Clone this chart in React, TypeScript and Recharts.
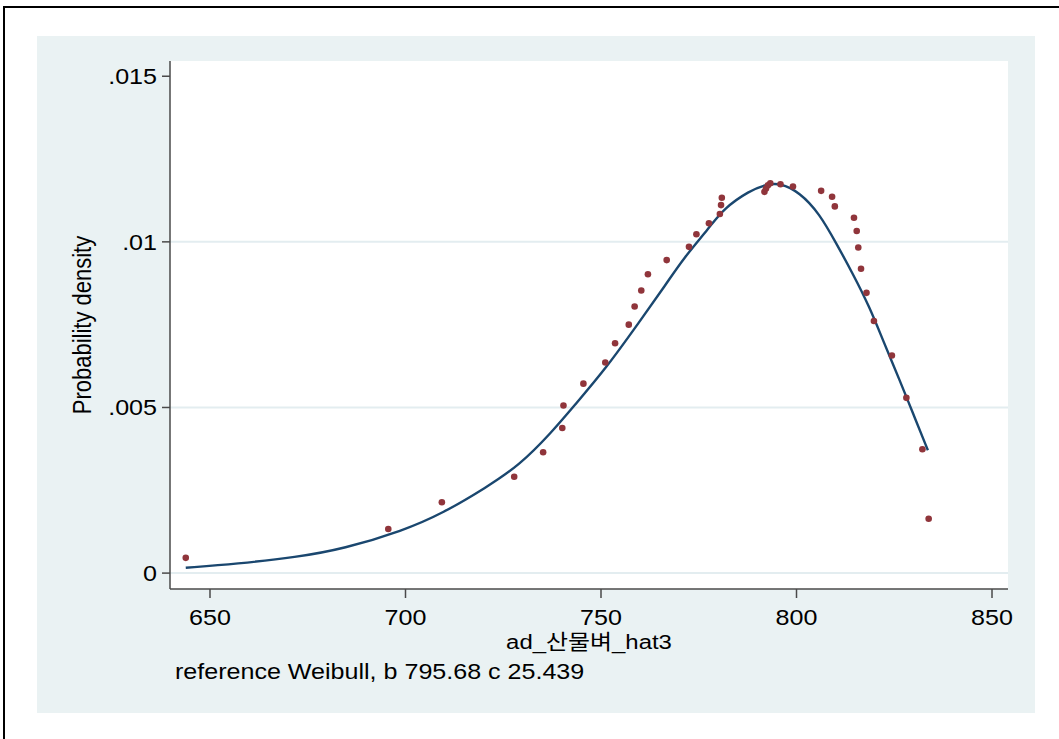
import {
  ComposedChart,
  Line,
  Scatter,
  XAxis,
  YAxis,
  ReferenceLine,
} from "recharts";

// tick labels / axis setup
const xTicks = [650, 700, 750, 800, 850];
const yTicks = [0, 0.005, 0.01, 0.015];
const yTickLabels = ["0", ".005", ".01", ".015"];
const gridValues = [0, 0.005, 0.01];

// observed density points (red dots)
const dotX = [
  643.8, 695.6, 709.3, 727.8, 735.2, 740.1, 740.4, 745.5, 751.1, 753.6,
  757.1, 758.6, 760.3, 762.0, 766.8, 772.5, 774.4, 777.6, 780.4, 780.7,
  780.9, 791.8, 792.2, 792.7, 793.3, 795.9, 799.1, 806.3, 809.1, 809.8,
  814.7, 815.4, 815.8, 816.5, 817.9, 819.8, 824.4, 828.1, 832.2, 833.8,
];
const dotY = [
  0.00046, 0.00133, 0.00214, 0.00291, 0.00365, 0.00438, 0.00506, 0.00572,
  0.00636, 0.00694, 0.0075, 0.00805, 0.00853, 0.00902, 0.00945, 0.00985,
  0.01023, 0.01056, 0.01084, 0.01111, 0.01133, 0.01151, 0.01161, 0.01171,
  0.01177, 0.01174, 0.01167, 0.01154, 0.01136, 0.01107, 0.01073, 0.01033,
  0.00983, 0.00919, 0.00846, 0.00761, 0.00657, 0.00529, 0.00374, 0.00164,
];

// reference Weibull curve
const curveX = [
  643.8, 656.8, 672.2, 684.1, 699.4, 709.6, 720.7, 729.2, 737.3, 742.9,
  751.4, 759.9, 766.7, 771.0, 777.8, 781.2, 788.0, 792.3, 795.7, 800.8,
  805.9, 810.2, 814.4, 818.7, 822.1, 826.4, 829.8, 833.6,
];
const curveY = [
  0.00016, 0.00028, 0.00048, 0.00073, 0.00128, 0.00181, 0.00259, 0.00326,
  0.00424, 0.00502, 0.0062, 0.0076, 0.00873, 0.00949, 0.01044, 0.01099,
  0.01155, 0.01173, 0.01178, 0.0115, 0.01085, 0.00995, 0.00904, 0.00803,
  0.00703, 0.00582, 0.00482, 0.00371,
];

const xTitle = "ad_산물벼_hat3";
const yTitle = "Probability density";
const note = "reference Weibull, b 795.68 c 25.439";

const dots = dotX.map((x, i) => ({ x, y: dotY[i] }));
const curve = curveX.map((x, i) => ({ x, y: curveY[i] }));

const FONT = "'Liberation Sans', Arial, 'Noto Sans CJK KR', sans-serif";
const SX = 1.14; // the reference is stretched a little sideways
const BG = "#EAF2F3";
const AXIS = "#4a4a4a";

const XTick = (props: any) => {
  const { x, y, payload } = props;
  return (
    <g transform={`translate(${x},${y}) scale(${SX},1)`}>
      <text x={0} y={0} dy={27} textAnchor="middle" fontSize={22} fontFamily={FONT} fill="#000">
        {payload.value}
      </text>
    </g>
  );
};

const YTick = (props: any) => {
  const { x, y, payload } = props;
  const idx = yTicks.indexOf(payload.value);
  return (
    <g transform={`translate(${x},${y}) scale(${SX},1)`}>
      <text x={0} y={0} dy={8} textAnchor="end" fontSize={22} fontFamily={FONT} fill="#000">
        {idx >= 0 ? yTickLabels[idx] : payload.value}
      </text>
    </g>
  );
};

const XLabel = () => (
  <g fontFamily={FONT} fill="#000">
    <g transform={`translate(552,613) scale(${SX},1)`}>
      <text x={0} y={0} textAnchor="middle" fontSize={21}>{xTitle}</text>
    </g>
    <g transform={`translate(138,643) scale(${SX},1)`}>
      <text x={0} y={0} textAnchor="start" fontSize={22}>{note}</text>
    </g>
  </g>
);

const YLabel = () => (
  <g transform={`translate(54,289) scale(${SX},1) rotate(-90)`}>
    <text x={0} y={0} textAnchor="middle" fontSize={22} fontFamily={FONT} fill="#000">
      {yTitle}
    </text>
  </g>
);

const Dot = (props: any) => (
  <circle cx={props.cx} cy={props.cy} r={3.3} fill="#90353B" />
);

export default function App() {
  return (
    <div
      style={{
        position: "absolute",
        left: 0,
        top: 0,
        width: 1059,
        height: 739,
        background: "#fff",
        overflow: "hidden",
      }}
    >
      <div
        style={{
          position: "absolute",
          left: 3,
          top: 6,
          width: 1200,
          height: 900,
          borderTop: "2px solid #000",
          borderLeft: "2px solid #000",
        }}
      />
      <div
        style={{
          position: "absolute",
          left: 37,
          top: 36,
          width: 998,
          height: 677,
          background: BG,
        }}
      >
        <ComposedChart
          width={998}
          height={677}
          margin={{ top: 25, right: 27, left: 0, bottom: 0 }}
        >
          <rect x={133} y={25} width={838} height={528} fill="#fff" />
          {gridValues.map((v) => (
            <ReferenceLine
              key={v}
              y={v}
              stroke="#E3EDF0"
              strokeWidth={2}
              ifOverflow="hidden"
            />
          ))}
          <XAxis
            type="number"
            dataKey="x"
            domain={[639.77, 854.09]}
            ticks={xTicks}
            allowDataOverflow
            height={124}
            tickSize={9}
            tickMargin={0}
            stroke={AXIS}
            strokeWidth={1.5}
            tick={<XTick />}
            label={<XLabel />}
          />
          <YAxis
            type="number"
            dataKey="y"
            domain={[-0.00048, 0.01546]}
            ticks={yTicks}
            allowDataOverflow
            width={133}
            tickSize={8}
            tickMargin={5}
            stroke={AXIS}
            strokeWidth={1.5}
            tick={<YTick />}
            label={<YLabel />}
          />
          <Scatter
            data={dots}
            dataKey="y"
            shape={<Dot />}
            isAnimationActive={false}
          />
          <Line
            data={curve}
            dataKey="y"
            type="basis"
            stroke="#1A476F"
            strokeWidth={2.4}
            dot={false}
            activeDot={false}
            isAnimationActive={false}
          />
        </ComposedChart>
      </div>
    </div>
  );
}
